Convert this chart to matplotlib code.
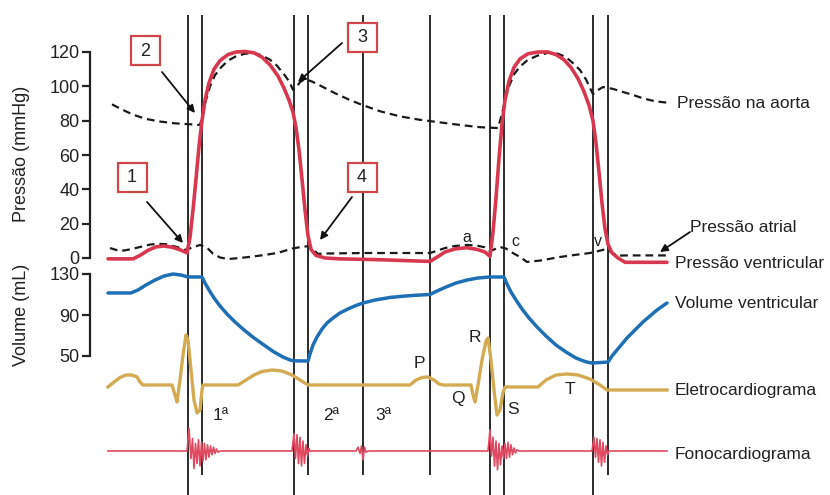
import matplotlib.pyplot as plt
from matplotlib.patches import Rectangle

plt.rcParams['font.family'] = ['Liberation Sans', 'DejaVu Sans']

W, H = 830, 495

# ---- dados (tempo em unidades arbitrárias) ----
# pressão ventricular (mmHg)
t_vent = [108, 133, 140, 148, 156, 164, 172, 180, 187, 190, 193, 196, 199, 202, 205, 209,
          214, 220, 228, 236, 245, 254, 262, 270, 278, 284, 289, 293, 296, 299, 302, 305,
          308, 311, 316, 325, 340, 380, 430, 437, 445, 455, 467, 477, 485, 490, 493, 496,
          499, 502, 505, 509, 514, 520, 528, 538, 548, 556, 564, 571, 578, 584, 589, 593,
          596, 599, 602, 605, 608, 612, 618, 625, 667]
p_vent = [-0.5, -0.5, 1.5, 4.5, 6.5, 7.0, 6.3, 4.8, 3.0, 12, 28, 46, 65, 80, 92, 102,
          110, 115, 118.5, 120, 120.3, 119.5, 117, 112.5, 106, 99, 92, 85, 76, 63, 46, 28,
          13, 5, 1.5, 0, -0.5, -1, -2, 0.5, 3.5, 5.3, 6, 5, 3.5, 1, 15, 35,
          58, 78, 92, 103, 111, 116, 119, 120, 120, 118.5, 115.5, 111, 104.5, 97, 89, 80,
          67, 50, 32, 17, 8, 3, 0, -2.5, -2.5]

# pressão na aorta (mmHg)
t_aorta = [112, 122, 133, 146, 160, 174, 187, 200, 203, 206, 210, 215, 221, 228, 236, 245,
           254, 262, 270, 277, 284, 289, 293, 296, 300, 305, 312, 320, 335, 350, 363, 380,
           400, 420, 440, 460, 480, 498, 502, 505, 509, 514, 520, 528, 538, 548, 558, 566,
           573, 580, 586, 590, 593, 597, 603, 613, 623, 633, 643, 655, 667]
p_aorta = [89.5, 86.5, 83.5, 81, 79.5, 78.5, 78, 77.5, 84, 92, 100, 106.5, 111, 115, 117.5, 119,
           119.5, 118, 115.5, 112, 107, 103, 98, 99, 102.5, 104.2, 102.8, 100.5, 96, 92, 89, 85.5,
           82.5, 80.5, 79, 77.5, 76.2, 75.7, 84, 92, 100, 107, 111.5, 115.5, 118, 119.5, 119, 117,
           113.5, 109.5, 104, 99, 95.5, 97.5, 99.6, 98.5, 96.7, 95, 93, 91.3, 90.5]

# pressão atrial (mmHg)
t_atrio = [110, 120, 130, 140, 150, 158, 166, 177, 185, 192, 200, 207, 213, 220, 228, 240,
           252, 265, 278, 292, 302, 310, 314, 318, 325, 363, 400, 430, 437, 445, 455, 467,
           477, 485, 490, 495, 500, 506, 512, 520, 527, 540, 560, 575, 590, 598, 606, 611,
           617, 630, 667]
p_atrio = [5.8, 4, 5, 6.4, 7.8, 8.3, 8, 6.4, 4.7, 6, 7.6, 6, 2.5, 0.3, -0.6, 0,
           0.8, 1.8, 3, 5.5, 6.5, 7, 4.5, 2.4, 2.6, 2.9, 2.9, 2.9, 4.2, 5.8, 7, 7.6,
           7.2, 6.2, 4, 5.2, 6.4, 5.5, 3.2, 0.6, -2.3, -1.5, 0.6, 1.8, 2.9, 4, 5.2, 3.5,
           1.4, 1.5, 1.5]

# volume ventricular (mL)
t_vol = [108, 131, 138, 146, 155, 164, 173, 181, 188, 202, 205, 209, 214, 220, 227, 235,
         244, 254, 264, 274, 283, 290, 294, 308, 310, 313, 317, 322, 327, 333, 340, 348,
         356, 363, 375, 390, 405, 420, 430, 437, 446, 456, 467, 478, 490, 504, 507, 511,
         516, 522, 529, 537, 546, 556, 566, 576, 585, 590, 593, 608, 612, 617, 622, 627,
         635, 643, 650, 657, 667]
v_vol = [111.5, 111.5, 114.4, 119.3, 124.1, 128, 130, 129, 127.1, 127.1, 121.2, 114.4, 106.6, 98.8, 91, 83.2,
         75.4, 67.6, 60.7, 53.9, 49, 46.1, 45.3, 45.1, 52, 60.7, 68.5, 76.3, 82.2, 87.1, 92, 95.9,
         99.3, 101.7, 104.6, 107.1, 108.5, 109.5, 110, 113.4, 117.3, 121.2, 124.1, 126.1, 127.1, 127.1, 120.2, 112.4,
         104.6, 95.9, 87.1, 78.3, 69.5, 60.7, 53.9, 48, 44.6, 43.4, 43.2, 44.1, 50, 55.9, 61.7, 67.6,
         75.4, 83.2, 89, 94.9, 101.7]

# eletrocardiograma (mV)
t_ecg = [108, 114, 120, 126, 132, 137, 140, 143, 172, 175, 177, 180, 183, 186, 188, 191,
         194, 197, 200, 202, 203, 238, 246, 254, 262, 272, 282, 292, 300, 308, 410, 416,
         422, 428, 434, 439, 443, 471, 473, 475, 478, 482, 486, 488, 491, 494, 497, 500,
         503, 505, 538, 546, 556, 567, 578, 590, 600, 607, 667]
v_ecg = [-0.04, 0.06, 0.15, 0.2, 0.2, 0.16, 0.06, 0, 0, -0.2, -0.34, 0.1, 0.6, 1.0, 0.9, 0.3,
         -0.3, -0.56, -0.5, -0.1, 0, 0, 0.1, 0.2, 0.27, 0.3, 0.28, 0.2, 0.1, 0, 0, 0.1,
         0.15, 0.16, 0.1, 0.02, 0, 0, -0.2, -0.34, 0.0, 0.5, 0.88, 0.94, 0.5, -0.1, -0.6, -0.5,
         -0.15, -0.04, -0.04, 0.1, 0.2, 0.22, 0.2, 0.12, 0.0, -0.1, -0.1]

# fonocardiograma (u.a.)
t_fono = [108, 187, 189, 191, 192.5, 194, 195.5, 197, 198.5, 200, 201.5, 203, 204.5, 206, 207.5,
          209, 210.5, 212, 213.5, 215, 216.5, 218, 220,
          292, 294, 295.5, 297, 298.5, 300, 301.5, 303, 304.5, 306, 307.5, 309, 310,
          356, 358, 360, 361.5, 363, 364.5, 366, 368,
          488, 490, 491.5, 493, 494.5, 496, 497.5, 499, 500.5, 502, 503.5, 505, 506.5, 508,
          509.5, 511, 512.5, 514, 515.5, 517, 519,
          592, 594, 595.5, 597, 598.5, 600, 601.5, 603, 604.5, 606, 607.5, 609, 667]
a_fono = [0, 0, 0.9, -0.3, 0.5, -0.7, 0.3, -0.5, 0.45, -0.6, 0.35, -0.4, 0.3, -0.35, 0.25,
          -0.25, 0.2, -0.15, 0.15, -0.1, 0.08, -0.05, 0,
          0, 0.7, -0.3, 0.65, -0.5, 0.55, -0.6, 0.4, -0.5, 0.25, -0.2, 0.1, 0,
          0, 0.15, -0.1, 0.2, -0.35, 0.15, -0.05, 0,
          0, 0.85, -0.2, 0.55, -0.6, 0.4, -0.75, 0.3, -0.55, 0.2, -0.3, 0.3, -0.3, 0.35,
          -0.25, 0.25, -0.15, 0.12, -0.08, 0.05, 0,
          0, 0.55, -0.25, 0.5, -0.45, 0.45, -0.6, 0.35, -0.45, 0.2, -0.15, 0, 0]

# linhas verticais dos eventos do ciclo
eventos_t = [188, 202, 294, 308, 363, 430, 490, 504, 593, 608]
eventos_fim = [495, 475, 495, 475, 475, 475, 495, 495, 495, 475]

ticks_p = [0, 20, 40, 60, 80, 100, 120]
ticks_v = [50, 90, 130]

vermelho = '#d8384f'
azul = '#1e6fb4'
ouro = '#d4ab52'
fono_cor = '#e04a60'
preto = '#222222'

fig = plt.figure(figsize=(8.3, 4.95), dpi=100)

# camada de fundo (coordenadas em pixels)
ax_bg = fig.add_axes([0, 0, 1, 1])
ax_bg.set_xlim(0, W)
ax_bg.set_ylim(H, 0)
ax_bg.axis('off')
ax_bg.vlines(eventos_t, 15, eventos_fim, color='#2b2b2b', lw=1.4)
ax_bg.add_patch(Rectangle((424, 35), 12, 18, color='white'))
ax_bg.add_patch(Rectangle((355, 152), 16, 46, color='white'))


def eixo(v_a, y_a, v_b, y_b, lo, hi):
    k = (y_a - y_b) / (v_b - v_a)
    top = y_a - (hi - v_a) * k
    bot = y_a + (v_a - lo) * k
    ax = fig.add_axes([0, 1 - bot / H, 1, (bot - top) / H])
    ax.set_xlim(0, W)
    ax.set_ylim(lo, hi)
    ax.set_facecolor('none')
    for s in ax.spines.values():
        s.set_visible(False)
    ax.set_xticks([])
    ax.set_yticks([])
    return ax


def eixo_y(ax, ticks):
    sp = ax.spines['left']
    sp.set_visible(True)
    sp.set_position(('data', 90))
    sp.set_bounds(ticks[0], ticks[-1])
    sp.set_linewidth(1.6)
    sp.set_color(preto)
    ax.set_yticks(ticks)
    ax.tick_params(axis='y', direction='out', length=6, width=1.6, pad=1.5,
                   labelsize=13, colors=preto)


ax_p = eixo(0, 258, 120, 52, -10, 145)
eixo_y(ax_p, ticks_p)
ax_p.plot(t_aorta, p_aorta, color='#1a1a1a', lw=1.6, dashes=(3.5, 2.2))
ax_p.plot(t_atrio, p_atrio, color='#1a1a1a', lw=1.6, dashes=(3.5, 2.2))
ax_p.plot(t_vent, p_vent, color=vermelho, lw=2.6, solid_capstyle='round', solid_joinstyle='round')

ax_v = eixo(50, 356, 130, 274, 35, 140)
eixo_y(ax_v, ticks_v)
ax_v.plot(t_vol, v_vol, color=azul, lw=2.5, solid_capstyle='round', solid_joinstyle='round')

ax_e = eixo(0, 385, 1, 335, -1.2, 1.5)
ax_e.plot(t_ecg, v_ecg, color=ouro, lw=2.4, solid_joinstyle='round')

ax_f = eixo(0, 451, 1, 426, -1.6, 1.6)
ax_f.plot(t_fono, a_fono, color=fono_cor, lw=1.2)

# camada de anotações
ax_t = fig.add_axes([0, 0, 1, 1])
ax_t.set_xlim(0, W)
ax_t.set_ylim(H, 0)
ax_t.axis('off')
ax_t.set_zorder(5)

ax_t.text(22, 154, 'Pressão (mmHg)', rotation=90, ha='center', va='center', fontsize=13, color=preto)
ax_t.text(22, 315, 'Volume (mL)', rotation=90, ha='center', va='center', fontsize=13, color=preto)

rotulos = [('Pressão na aorta', 677, 103), ('Pressão atrial', 690, 227),
           ('Pressão ventricular', 675, 263), ('Volume ventricular', 675, 303),
           ('Eletrocardiograma', 675, 390), ('Fonocardiograma', 675, 455)]
for txt, x, y in rotulos:
    ax_t.text(x, y, txt, ha='left', va='center', fontsize=12.5, color=preto)

ax_t.annotate('', xy=(660, 252), xytext=(690, 232),
              arrowprops=dict(arrowstyle='-|>', color='#111', lw=1.3, mutation_scale=11,
                              shrinkA=0, shrinkB=0))

for txt, x, y in [('a', 467, 237), ('c', 515, 242), ('v', 598, 242)]:
    ax_t.text(x, y, txt, ha='center', va='center', fontsize=11.5, color=preto)

for txt, x, y in [('P', 419, 364), ('Q', 458, 399), ('R', 475, 337), ('S', 513, 410),
                  ('T', 570, 390), ('1ª', 221, 416), ('2ª', 331, 416), ('3ª', 383, 416)]:
    ax_t.text(x, y, txt, ha='center', va='center', fontsize=12.5, color=preto)

caixas = [('1', 132, 177, (147, 202), (183, 243)),
          ('2', 145, 50, (162, 72), (195, 113)),
          ('3', 362, 37, (342, 43), (298, 82)),
          ('4', 362, 177, (352, 197), (320, 240))]
for num, cx, cy, p0, p1 in caixas:
    ax_t.add_patch(Rectangle((cx - 14.5, cy - 14.5), 29, 29, fc='white', ec='#d0464a', lw=1.6))
    ax_t.text(cx, cy + 1, num, ha='center', va='center', fontsize=13, color=preto)
    ax_t.annotate('', xy=p1, xytext=p0,
                  arrowprops=dict(arrowstyle='-|>', color='#111', lw=1.3, mutation_scale=11,
                                  shrinkA=0, shrinkB=0))

fig.savefig('out.png', dpi=100)
